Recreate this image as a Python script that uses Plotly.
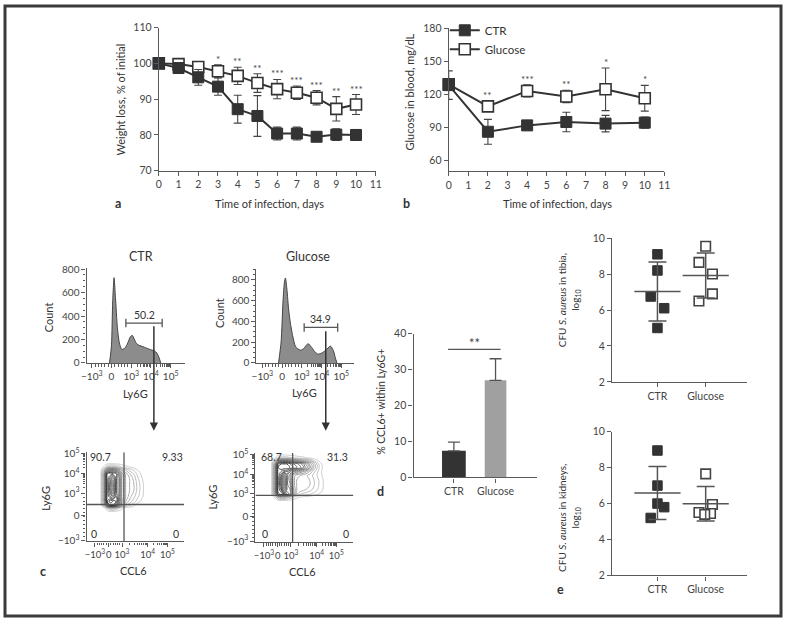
import numpy as np
import plotly.graph_objects as go

W, H = 787, 622
FONT = "Lato"
TXT = "#333333"
AXC = "#5a5a5a"
DARK = "#333333"

# ---------------- data ----------------
# panel a: weight loss
days_a = list(range(11))
weight_ctr = [100, 98.7, 96.1, 93.5, 87.2, 85.3, 80.4, 80.4, 79.5, 80.1, 80.0]
weight_ctr_err = [0.0, 1.2, 2.2, 2.4, 3.9, 5.7, 1.8, 1.8, 0.6, 1.6, 1.5]
weight_glu = [100, 99.8, 99.0, 97.8, 96.5, 94.5, 92.8, 91.8, 90.4, 87.3, 88.5]
weight_glu_err = [0.0, 0.8, 1.0, 1.8, 2.4, 2.6, 2.7, 1.9, 2.0, 3.4, 2.8]
weight_sig = ["", "", "", "*", "**", "**", "***", "***", "***", "**", "***"]

# panel b: blood glucose
days_b = [0, 2, 4, 6, 8, 10]
gluc_ctr = [128.3, 85.9, 91.7, 94.8, 93.3, 94.2]
gluc_ctr_err = [13.0, 11.3, 2.0, 8.9, 7.5, 5.0]
gluc_glu = [129.0, 109.0, 123.0, 118.0, 124.5, 116.4]
gluc_glu_err = [5.0, 4.5, 5.5, 5.6, 19.4, 11.7]
gluc_sig = ["", "**", "***", "**", "*", "*"]

# panel c: Ly6G histograms (display units on biexponential axis)
hist_ctr_u = [-0.1, 0.0, 0.06, 0.13, 0.2, 0.3, 0.4, 0.52, 0.65, 0.8, 0.95, 1.05,
              1.15, 1.27, 1.4, 1.6, 1.75, 1.93, 2.05, 2.18, 2.3, 2.4, 2.5]
hist_ctr_count = [0, 150, 520, 727, 560, 300, 170, 115, 122, 160, 222, 236,
                  205, 165, 150, 139, 128, 117, 110, 103, 85, 50, 0]
hist_glu_u = [-0.18, -0.05, 0.05, 0.12, 0.17, 0.25, 0.33, 0.42, 0.55, 0.67, 0.8,
              0.95, 1.1, 1.32, 1.5, 1.65, 1.82, 2.0, 2.2, 2.45, 2.6, 2.7, 2.78]
hist_glu_count = [0, 200, 600, 780, 818, 700, 520, 384, 250, 163, 135,
                  123, 140, 186, 150, 110, 85, 95, 120, 163, 120, 50, 0]
gate_ctr = [0.73, 2.57]
gate_ctr_level = 340
gate_ctr_label = "50.2"
gate_glu = [1.12, 2.82]
gate_glu_level = 342
gate_glu_label = "34.9"
flow_tick_text = ["\u221210<sup>3</sup>", "0", "10<sup>3</sup>", "10<sup>4</sup>", "10<sup>5</sup>"]

# panel c: CCL6 vs Ly6G density grids (display units)
dens_ctr_x = [14, 18, 21, 24, 27, 30, 33, 36, 40, 44, 48, 52, 56, 60]
dens_ctr_y = [30, 34, 37, 41, 46, 52, 58, 64, 69, 73, 76, 80]
dens_ctr_z = [
    [0, 0, 0, 0, 0, 0, 0, 0, 0, 0, 0, 0, 0, 0],
    [0, 0, 1, 2, 2, 1.5, 1, 0.5, 0, 0, 0, 0, 0, 0],
    [0, 2, 6, 8, 8, 7, 5, 3, 1.5, 1, 0.5, 0, 0, 0],
    [0, 3, 8, 9, 8.5, 8, 6, 4, 2.5, 1.8, 1.2, 0.6, 0.2, 0],
    [0, 3, 8, 7, 6, 7.5, 6, 4, 3, 2.2, 1.6, 1, 0.5, 0],
    [0, 3, 8, 6, 4, 7, 6, 4, 3, 2.5, 2, 1.2, 0.6, 0],
    [0, 3, 8, 6, 4, 7, 6, 4, 3, 2.5, 2, 1.2, 0.6, 0],
    [0, 3, 8, 6.5, 5, 7, 6, 4, 3, 2.5, 1.8, 1, 0.4, 0],
    [0, 3, 7.5, 8, 7.5, 7, 5.5, 4, 2.8, 2, 1.4, 0.7, 0.2, 0],
    [0, 2, 4.5, 5, 5, 4.5, 3.5, 2.5, 1.8, 1.2, 0.8, 0.3, 0, 0],
    [0, 0.5, 1.5, 1.8, 1.8, 1.5, 1.2, 0.8, 0.5, 0.3, 0.1, 0, 0, 0],
    [0, 0, 0, 0, 0, 0, 0, 0, 0, 0, 0, 0, 0, 0],
]
dens_glu_x = [16, 20, 23, 26, 29, 32, 35, 38, 42, 46, 50, 55, 60, 65, 70, 75]
dens_glu_y = [42, 46, 49, 53, 58, 63, 68, 72, 76, 80, 83, 86, 90]
dens_glu_z = [
    [0, 0, 0, 0, 0, 0, 0, 0, 0, 0, 0, 0, 0, 0, 0, 0],
    [0, 0.5, 2, 2.5, 2.5, 2, 1.5, 1, 0.5, 0.3, 0.2, 0.1, 0, 0, 0, 0],
    [0, 3, 7, 8, 7, 7, 6, 4, 2, 1.5, 1.2, 1, 0.6, 0.3, 0, 0],
    [0, 3.5, 8, 7, 4, 6, 6, 4, 2.5, 2.2, 2, 1.6, 1.2, 0.6, 0.2, 0],
    [0, 3.5, 8, 6, 3, 6, 5.5, 3.5, 2.5, 2.5, 2.3, 2, 1.4, 0.8, 0.2, 0],
    [0, 3.5, 8, 6, 3, 6, 5, 3.5, 2.5, 2.5, 2.3, 2, 1.4, 0.8, 0.2, 0],
    [0, 3.5, 8, 6.5, 4, 6, 5, 3.5, 2.8, 2.5, 2.2, 1.8, 1.2, 0.6, 0.1, 0],
    [0, 3.5, 8, 7.5, 7, 7, 6, 5, 4.5, 4, 3.5, 2.5, 1.5, 0.6, 0, 0],
    [0, 3.5, 8, 8.5, 8.5, 8.5, 8, 7.5, 7, 6.5, 5.5, 4, 2.2, 0.8, 0, 0],
    [0, 3, 7, 8, 8, 8, 7.5, 7, 6.5, 6, 5, 3.5, 2, 0.6, 0, 0],
    [0, 1.5, 4, 5, 5, 5, 4.5, 4, 3.5, 3, 2.5, 1.8, 0.8, 0.2, 0, 0],
    [0, 0.3, 1, 1.2, 1.2, 1.2, 1, 0.8, 0.6, 0.5, 0.4, 0.2, 0, 0, 0, 0],
    [0, 0, 0, 0, 0, 0, 0, 0, 0, 0, 0, 0, 0, 0, 0, 0],
]
quad_ctr = {"x": 38, "y": 37.7, "labels": ["90.7", "9.33", "0", "0"]}
quad_glu = {"x": 37.7, "y": 47.7, "labels": ["68.7", "31.3", "0", "0"]}

# panel d
ccl6_groups = ["CTR", "Glucose"]
ccl6_mean = [7.4, 27.0]
ccl6_err = [2.4, 6.0]

# panel e
e_groups = ["CTR", "Glucose"]
tibia_ctr = [9.1, 8.2, 6.75, 6.1, 5.0]
tibia_glu = [9.55, 8.65, 8.0, 6.9, 6.5]
kidney_ctr = [8.95, 7.0, 6.0, 5.8, 5.2]
kidney_glu = [7.65, 5.95, 5.5, 5.45, 5.4]
jit_tibia_ctr = [0, 0, -0.14, 0.14, 0]
jit_tibia_glu = [0, -0.14, 0.14, 0.14, -0.14]
jit_kidney_ctr = [0, 0, 0, 0.14, -0.14]
jit_kidney_glu = [0, 0.14, -0.14, 0.1, -0.02]


# ---------------- helpers ----------------
def xd(l, r):
    return [l / W, r / W]


def yd(t, b):
    return [1 - b / H, 1 - t / H]


def px(x):
    return x / W


def py(y):
    return 1 - y / H


def axis(domain, rng, anchor, **kw):
    d = dict(domain=domain, range=rng, anchor=anchor, showline=True, linecolor=AXC,
             linewidth=1.2, ticks="outside", ticklen=4, tickwidth=1.1, tickcolor=AXC,
             showgrid=False, zeroline=False, fixedrange=True, tickangle=0,
             tickfont=dict(size=10.5, color="#444", family=FONT))
    d.update(kw)
    return d


def flow_minor(majors):
    # majors: positions of -1e3, 0, 1e3, 1e4, 1e5
    vals = []
    a, b = majors[0], majors[2]
    for t in np.linspace(a, b, 13)[1:-1]:
        vals.append(float(t))
    for i in (2, 3):
        lo, hi = majors[i], majors[i + 1]
        for k in range(2, 10):
            vals.append(float(lo + (hi - lo) * np.log10(k)))
    return vals


fig = go.Figure()

# ---------------- panel a ----------------
fig.add_trace(go.Scatter(x=days_a, y=weight_glu, mode="lines+markers", showlegend=False,
                         line=dict(color=DARK, width=2),
                         marker=dict(symbol="square", size=11, color="white", line=dict(color=DARK, width=1.6)),
                         error_y=dict(type="data", array=weight_glu_err, color="#444", thickness=1.1, width=4),
                         cliponaxis=False, xaxis="x", yaxis="y"))
fig.add_trace(go.Scatter(x=days_a, y=weight_ctr, mode="lines+markers", showlegend=False,
                         line=dict(color=DARK, width=2),
                         marker=dict(symbol="square", size=11, color=DARK, line=dict(color=DARK, width=1)),
                         error_y=dict(type="data", array=weight_ctr_err, color="#444", thickness=1.1, width=4),
                         cliponaxis=False, xaxis="x", yaxis="y"))

# ---------------- panel b ----------------
fig.add_trace(go.Scatter(x=days_b, y=gluc_glu, mode="lines+markers", name="Glucose", legendrank=2,
                         line=dict(color=DARK, width=2),
                         marker=dict(symbol="square", size=11, color="white", line=dict(color=DARK, width=1.6)),
                         error_y=dict(type="data", array=gluc_glu_err, color="#444", thickness=1.1, width=4),
                         cliponaxis=False, xaxis="x2", yaxis="y2"))
fig.add_trace(go.Scatter(x=days_b, y=gluc_ctr, mode="lines+markers", name="CTR", legendrank=1,
                         line=dict(color=DARK, width=2),
                         marker=dict(symbol="square", size=11, color=DARK, line=dict(color=DARK, width=1)),
                         error_y=dict(type="data", array=gluc_ctr_err, color="#444", thickness=1.1, width=4),
                         cliponaxis=False, xaxis="x2", yaxis="y2"))

# ---------------- panel c histograms ----------------
for u, cnt, g, lvl, xa, ya in [(hist_ctr_u, hist_ctr_count, gate_ctr, gate_ctr_level, "x3", "y3"),
                               (hist_glu_u, hist_glu_count, gate_glu, gate_glu_level, "x4", "y4")]:
    fig.add_trace(go.Scatter(x=u, y=cnt, mode="lines", fill="tozeroy", fillcolor="#8c8c8c",
                             line=dict(color="#444", width=1, shape="spline", smoothing=0.6),
                             showlegend=False, hoverinfo="skip", xaxis=xa, yaxis=ya))
    fig.add_trace(go.Scatter(x=g, y=[lvl, lvl], mode="lines+markers", showlegend=False, hoverinfo="skip",
                             line=dict(color="#555", width=1.3),
                             marker=dict(symbol="line-ns", size=6, line=dict(color="#555", width=1.3)),
                             xaxis=xa, yaxis=ya))

# ---------------- panel c contours ----------------
for xs, ys, zs, xa, ya in [(dens_ctr_x, dens_ctr_y, dens_ctr_z, "x5", "y5"),
                           (dens_glu_x, dens_glu_y, dens_glu_z, "x6", "y6")]:
    fig.add_trace(go.Contour(x=xs, y=ys, z=zs, showscale=False, hoverinfo="skip",
                             contours=dict(coloring="lines", start=0.35, end=9.0, size=0.55),
                             line=dict(width=0.8, smoothing=1.3),
                             colorscale=[[0, "#c0c0c0"], [0.5, "#6a6a6a"], [1, "#1a1a1a"]],
                             xaxis=xa, yaxis=ya))

# ---------------- panel d ----------------
fig.add_trace(go.Bar(x=[0, 1], y=ccl6_mean, width=[0.57, 0.52], marker=dict(color=["#333333", "#a0a0a0"], line=dict(width=0)),
                     error_y=dict(type="data", array=ccl6_err, arrayminus=[0, 0], symmetric=False,
                                  color="#555", thickness=1.3, width=6),
                     showlegend=False, xaxis="x7", yaxis="y7"))
fig.add_trace(go.Scatter(x=[-0.14, 1.12], y=[35.6, 35.6], mode="lines", line=dict(color="#555", width=1.3),
                         showlegend=False, hoverinfo="skip", xaxis="x7", yaxis="y7"))


# ---------------- panel e ----------------
def e_panel(vals, jit, gi, filled, xa, ya):
    xs = [gi + j for j in jit]
    fig.add_trace(go.Scatter(x=xs, y=vals, mode="markers", showlegend=False, cliponaxis=False,
                             marker=dict(symbol="square", size=9.5,
                                         color=DARK if filled else "white",
                                         line=dict(color=DARK if filled else "#444", width=1 if filled else 1.6)),
                             xaxis=xa, yaxis=ya))
    m = float(np.mean(vals))
    s = float(np.std(vals, ddof=1))
    fig.add_trace(go.Scatter(x=[gi], y=[m], mode="markers", showlegend=False, hoverinfo="skip",
                             marker=dict(symbol="line-ew", size=33, line=dict(color="#555", width=1.5)),
                             error_y=dict(type="data", array=[s], color="#555", thickness=1.5, width=9),
                             xaxis=xa, yaxis=ya))


e_panel(tibia_ctr, jit_tibia_ctr, 0, True, "x8", "y8")
e_panel(tibia_glu, jit_tibia_glu, 1, False, "x8", "y8")
e_panel(kidney_ctr, jit_kidney_ctr, 0, True, "x9", "y9")
e_panel(kidney_glu, jit_kidney_glu, 1, False, "x9", "y9")

# ---------------- axes ----------------
hist_ctr_ticks = [-1, 0, 1, 2, 3]
hist_glu_ticks = [-1, 0, 1, 2, 3]
cont_ctr_xt = [8.5, 22.5, 36.0, 62.0, 82.0]
cont_glu_xt = [8.5, 22.5, 36.0, 62.0, 82.0]
cont_yt = [1.0, 26.0, 49.3, 69.3, 89.3]
flow_font = dict(size=10, color="#444", family=FONT)
flow_font_x = dict(size=9.5, color="#444", family=FONT)

layout_axes = dict(
    xaxis=axis(xd(156, 376), [0, 11], "y", dtick=1, tick0=0),
    yaxis=axis(yd(22, 168), [70, 110], "x", dtick=10),
    xaxis2=axis(xd(450, 668.7), [0, 11], "y2", dtick=1, tick0=0),
    yaxis2=axis(yd(22.7, 168.5), [50, 180], "x2", tickvals=[60, 90, 120, 150, 180]),
    xaxis3=axis(xd(82.7, 182.7), [-1.265, 3.735], "y3", tickvals=hist_ctr_ticks, ticktext=flow_tick_text,
                tickfont=flow_font, ticklen=4,
                minor=dict(tickmode="array", tickvals=flow_minor(hist_ctr_ticks), ticklen=2.5, tickcolor=AXC, ticks="outside")),
    yaxis3=axis(yd(266.7, 364), [0, 813], "x3", tickvals=[0, 200, 400, 600, 800], tickfont=flow_font,
                minor=dict(dtick=50, ticklen=2.5, tickcolor=AXC, ticks="outside")),
    xaxis4=axis(xd(255, 354), [-1.3, 3.65], "y4", tickvals=hist_glu_ticks, ticktext=flow_tick_text,
                tickfont=flow_font,
                minor=dict(tickmode="array", tickvals=flow_minor(hist_glu_ticks), ticklen=2.5, tickcolor=AXC, ticks="outside")),
    yaxis4=axis(yd(268, 364), [0, 906], "x4", tickvals=[0, 200, 400, 600, 800], tickfont=flow_font,
                minor=dict(dtick=50, ticklen=2.5, tickcolor=AXC, ticks="outside")),
    xaxis5=axis(xd(82.7, 181.7), [0, 99], "y5", tickvals=cont_ctr_xt, ticktext=flow_tick_text, tickfont=flow_font_x,
                minor=dict(tickmode="array", tickvals=flow_minor(cont_ctr_xt), ticklen=2.5, tickcolor=AXC, ticks="outside")),
    yaxis5=axis(yd(455, 546), [0, 91], "x5", tickvals=cont_yt, ticktext=flow_tick_text, tickfont=flow_font,
                minor=dict(tickmode="array", tickvals=flow_minor(cont_yt), ticklen=2.5, tickcolor=AXC, ticks="outside")),
    xaxis6=axis(xd(254, 353.3), [0, 99.3], "y6", tickvals=cont_glu_xt, ticktext=flow_tick_text, tickfont=flow_font_x,
                minor=dict(tickmode="array", tickvals=flow_minor(cont_glu_xt), ticklen=2.5, tickcolor=AXC, ticks="outside")),
    yaxis6=axis(yd(455.7, 546.7), [0, 91], "x6", tickvals=cont_yt, ticktext=flow_tick_text, tickfont=flow_font,
                minor=dict(tickmode="array", tickvals=flow_minor(cont_yt), ticklen=2.5, tickcolor=AXC, ticks="outside")),
    xaxis7=axis(xd(414.3, 539.3), [-0.97, 1.99], "y7", tickvals=[0, 1], ticktext=ccl6_groups),
    yaxis7=axis(yd(334, 480.7), [0, 40], "x7", dtick=10),
    xaxis8=axis(xd(615.7, 752.7), [-0.94, 1.86], "y8", tickvals=[0, 1], ticktext=e_groups),
    yaxis8=axis(yd(236.7, 383.3), [2, 10], "x8", dtick=2),
    xaxis9=axis(xd(615.7, 752.7), [-0.94, 1.86], "y9", tickvals=[0, 1], ticktext=e_groups),
    yaxis9=axis(yd(434, 580.7), [2, 10], "x9", dtick=2),
)

# ---------------- annotations ----------------
ann = []


def text(x, y, t, size=11, angle=0, bold=False, color=TXT, xanchor="center", yanchor="middle", **kw):
    d = dict(x=px(x), y=py(y), xref="paper", yref="paper", text=("<b>%s</b>" % t) if bold else t,
             showarrow=False, textangle=angle, xanchor=xanchor, yanchor=yanchor,
             font=dict(size=size, color=color, family=FONT))
    d.update(kw)
    ann.append(d)


# significance stars
for d, v, e, s in zip(days_a, weight_glu, weight_glu_err, weight_sig):
    if s:
        ann.append(dict(x=d, y=v + e, xref="x", yref="y", text=s, showarrow=False, yanchor="bottom",
                        yshift=-2, font=dict(size=10, color="#444", family=FONT)))
for d, v, e, s in zip(days_b, gluc_glu, gluc_glu_err, gluc_sig):
    if s:
        ann.append(dict(x=d, y=v + e, xref="x2", yref="y2", text=s, showarrow=False, yanchor="bottom",
                        yshift=-2, font=dict(size=10, color="#444", family=FONT)))

# gate labels
ann.append(dict(x=sum(gate_ctr) / 2, y=gate_ctr_level, xref="x3", yref="y3", text=gate_ctr_label,
                showarrow=False, yanchor="bottom", yshift=0, font=dict(size=10.5, color=TXT, family=FONT)))
ann.append(dict(x=sum(gate_glu) / 2, y=gate_glu_level, xref="x4", yref="y4", text=gate_glu_label,
                showarrow=False, yanchor="bottom", yshift=0, font=dict(size=10.5, color=TXT, family=FONT)))

# quadrant labels
for q, xa, ya, pos in [(quad_ctr, "x5", "y5", [(14, 86.5), (87, 86.5), (7.3, 8), (90.6, 8)]),
                       (quad_glu, "x6", "y6", [(16.7, 86.7), (83.3, 86.7), (9.3, 8.4), (91.7, 8.4)])]:
    for lab, (qx, qy) in zip(q["labels"], pos):
        ann.append(dict(x=qx, y=qy, xref=xa, yref=ya, text=lab, showarrow=False,
                        font=dict(size=10.5, color=TXT, family=FONT)))

# "**" in panel d
ann.append(dict(x=0.49, y=35.6, xref="x7", yref="y7", text="**", showarrow=False, yanchor="bottom",
                yshift=-4, font=dict(size=13, color="#444", family=FONT)))

# axis titles
text(268, 201, "Time of infection, days")
text(117, 95, "Weight loss, % of initial", angle=-90)
text(560, 201, "Time of infection, days")
text(410, 88, "Glucose in blood, mg/dL", angle=-90)
text(138, 255, "CTR", size=12.5)
text(307, 255, "Glucose", size=12.5)
text(45, 317, "Count", angle=-90)
text(218, 313, "Count", angle=-90)
text(132, 395, "Ly6G")
text(304, 394, "Ly6G")
text(41, 502, "Ly6G", angle=-90)
text(210, 501, "Ly6G", angle=-90)
text(130, 576, "CCL6")
text(302, 577, "CCL6")
text(382, 404, "% CCL6+ within Ly6G+", angle=-90, size=10.5)
text(572, 300, "CFU <i>S. aureus</i> in tibia,<br>log<sub>10</sub>", angle=-90, size=10)
text(572, 522, "CFU <i>S. aureus</i> in kidneys,<br>log<sub>10</sub>", angle=-90, size=10)

# panel letters
text(115, 201, "a", size=12.5, bold=True)
text(407, 201, "b", size=12.5, bold=True)
text(39, 577, "c", size=12.5, bold=True)
text(381, 495, "d", size=12.5, bold=True)
text(563, 595, "e", size=12.5, bold=True)

# arrows from gates to dot plots
for ax_x, y0, y1 in [(151, 327, 433), (325.3, 332, 433)]:
    ann.append(dict(x=px(ax_x), y=py(y1), ax=0, ay=-(y1 - y0), xref="paper", yref="paper",
                    axref="pixel", ayref="pixel", text="", showarrow=True, arrowhead=2,
                    arrowsize=1.1, arrowwidth=1.5, arrowcolor=DARK))

# ---------------- shapes ----------------
shapes = [
    dict(type="rect", xref="paper", yref="paper", x0=0, y0=0, x1=1, y1=1,
         line=dict(color="#3a3a3a", width=3)),
]
for q, xa, ya, xmax in [(quad_ctr, "x5", "y5", 99), (quad_glu, "x6", "y6", 99.3)]:
    shapes.append(dict(type="line", xref=xa, yref=ya, x0=q["x"], x1=q["x"], y0=0, y1=91,
                       line=dict(color="#555", width=1.3)))
    shapes.append(dict(type="line", xref=xa, yref=ya, x0=0, x1=xmax, y0=q["y"], y1=q["y"],
                       line=dict(color="#555", width=1.3)))

fig.update_layout(
    width=W, height=H, margin=dict(l=0, r=0, t=0, b=0),
    paper_bgcolor="white", plot_bgcolor="rgba(0,0,0,0)",
    font=dict(family=FONT, color=TXT, size=11),
    showlegend=True,
    legend=dict(x=px(446), y=py(10), xanchor="left", yanchor="top", bgcolor="rgba(0,0,0,0)",
                font=dict(size=11.5, color=TXT, family=FONT), itemwidth=30, tracegroupgap=0,
                traceorder="normal"),
    annotations=ann, shapes=shapes,
    **layout_axes,
)

fig.write_html("out.html", config={"displayModeBar": False},
               post_script="document.body.style.margin='0';document.body.style.overflow='hidden';")
